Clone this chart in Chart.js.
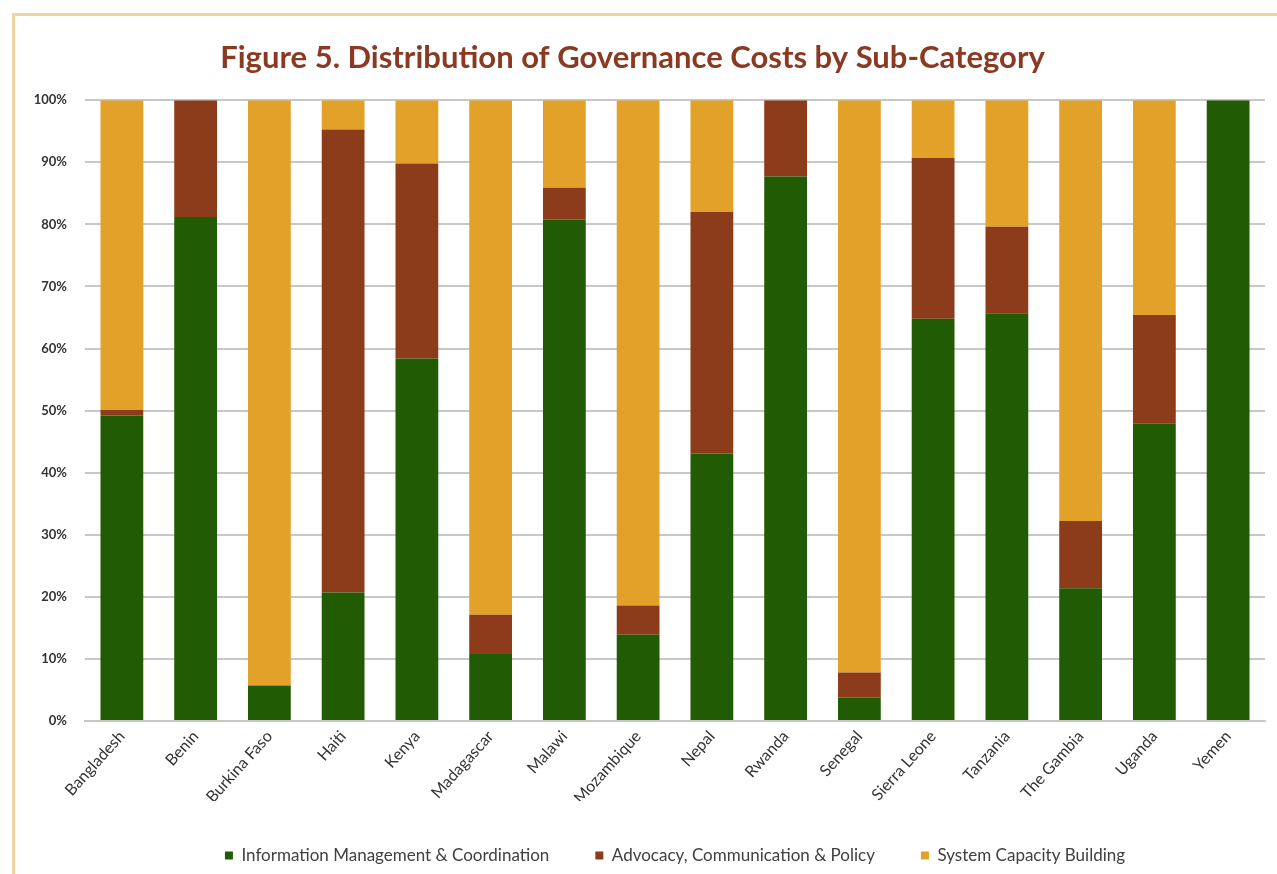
<!DOCTYPE html>
<html>
<head>
<meta charset="utf-8">
<title>Governance costs by sub-category</title>
<script src="https://cdn.jsdelivr.net/npm/chart.js@4/dist/chart.umd.min.js"></script>
<style>
	html, body { margin: 0; padding: 0; background: #ffffff; overflow: hidden; }
	#frame {
		position: absolute;
		left: 12px; top: 13px;
		width: 1300px; height: 900px;
		border: 3px solid #f1d3a4;
		box-sizing: border-box;
	}
	#wrap { position: absolute; left: 0; top: 0; width: 1277px; height: 874px; }
</style>
</head>
<body>
<div id="frame"></div>
<div id="wrap"><canvas id="chart"></canvas></div>
<script>
// Countries along the x axis
const countries = ['Bangladesh', 'Benin', 'Burkina Faso', 'Haiti', 'Kenya', 'Madagascar', 'Malawi', 'Mozambique',
	'Nepal', 'Rwanda', 'Senegal', 'Sierra Leone', 'Tanzania', 'The Gambia', 'Uganda', 'Yemen'];

// Share of governance costs (%) per sub-category
const infoManagement = [49.2, 81.2, 5.7, 20.7, 58.4, 10.8, 80.8, 13.9, 43.1, 87.7, 3.8, 64.8, 65.7, 21.4, 47.9, 100];
const advocacy       = [0.9, 18.8, 0, 74.6, 31.4, 6.3, 5.1, 4.7, 38.9, 12.3, 4.0, 25.9, 13.9, 10.8, 17.5, 0];
const capacity       = [49.9, 0, 94.3, 4.7, 10.2, 82.9, 14.1, 81.4, 18.0, 0, 92.2, 9.3, 20.4, 67.8, 34.6, 0];

// Series names and colours
const seriesNames = ['Information Management & Coordination', 'Advocacy, Communication & Policy', 'System Capacity Building'];
const seriesColours = ['#215b03', '#8c3b1b', '#e2a229'];

const fontFamily = 'Lato, "Open Sans", sans-serif';

// Assemble the stacked datasets
const datasets = [infoManagement, advocacy, capacity].map((values, i) => ({
	label: seriesNames[i],
	data: values,
	backgroundColor: seriesColours[i],
	borderWidth: 0,
	barPercentage: 0.58,
	categoryPercentage: 1.0
}));

new Chart(document.getElementById('chart').getContext('2d'), {
	type: 'bar',
	data: {
		labels: countries,
		datasets: datasets
	},
	options: {
		responsive: true,
		maintainAspectRatio: false,
		animation: false,
		layout: {
			padding: { left: 0, right: 12, top: 0, bottom: 0 }
		},
		plugins: {
			title: {
				display: true,
				text: 'Figure 5. Distribution of Governance Costs by Sub-Category',
				color: '#8a3a22',
				font: { family: fontFamily, size: 31, weight: 'bold' },
				padding: { top: 39, bottom: 24 }
			},
			legend: {
				position: 'bottom',
				fullSize: false,
				labels: {
					boxWidth: 8,
					boxHeight: 8,
					padding: 46,
					color: '#404040',
					font: { family: fontFamily, size: 17 }
				}
			},
			tooltip: { enabled: false }
		},
		scales: {
			x: {
				stacked: true,
				grid: { display: false, drawTicks: false },
				border: { display: true, color: '#c8c8c8', width: 2 },
				ticks: {
					autoSkip: false,
					maxRotation: 48,
					minRotation: 48,
					padding: 6,
					color: '#333333',
					font: { family: fontFamily, size: 16 }
				},
				afterFit: (scale) => { scale.height = 80; }
			},
			y: {
				stacked: true,
				min: 0,
				max: 100,
				grid: { color: '#c8c8c8', lineWidth: 2, drawTicks: false },
				border: { display: false },
				ticks: {
					stepSize: 10,
					padding: 18,
					color: '#333333',
					font: { family: fontFamily, size: 13, weight: 'bold' },
					callback: (value) => value + '%'
				},
				afterFit: (scale) => { scale.width = 85; }
			}
		}
	}
});
</script>
</body>
</html>
